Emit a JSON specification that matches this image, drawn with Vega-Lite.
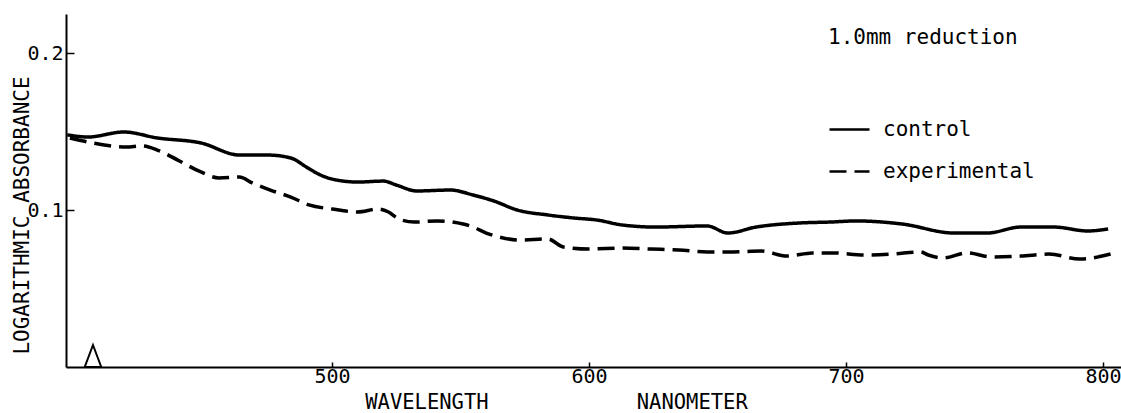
{
  "$schema": "https://vega.github.io/schema/vega-lite/v6.json",
  "width": 1055,
  "height": 353,
  "autosize": {"type": "none"},
  "padding": {"left": 66, "top": 14, "right": 0, "bottom": 46},
  "background": "white",
  "config": {
    "view": {"stroke": null},
    "font": "DejaVu Sans Mono",
    "axis": {"grid": false, "domainColor": "black", "domainWidth": 2, "tickColor": "black", "tickWidth": 1.5, "labelColor": "black", "titleColor": "black", "labelFont": "DejaVu Sans Mono", "titleFont": "DejaVu Sans Mono", "titleFontWeight": "normal"}
  },
  "datasets": {
    "spectra": [
      {"wavelength": 397, "absorbance": 0.148, "sample": "control"},
      {"wavelength": 405, "absorbance": 0.1466, "sample": "control"},
      {"wavelength": 419, "absorbance": 0.1498, "sample": "control"},
      {"wavelength": 432, "absorbance": 0.146, "sample": "control"},
      {"wavelength": 449, "absorbance": 0.1428, "sample": "control"},
      {"wavelength": 464, "absorbance": 0.1351, "sample": "control"},
      {"wavelength": 475, "absorbance": 0.1351, "sample": "control"},
      {"wavelength": 484, "absorbance": 0.1332, "sample": "control"},
      {"wavelength": 490, "absorbance": 0.1275, "sample": "control"},
      {"wavelength": 494, "absorbance": 0.1236, "sample": "control"},
      {"wavelength": 500, "absorbance": 0.1198, "sample": "control"},
      {"wavelength": 510, "absorbance": 0.1179, "sample": "control"},
      {"wavelength": 520, "absorbance": 0.1185, "sample": "control"},
      {"wavelength": 525, "absorbance": 0.116, "sample": "control"},
      {"wavelength": 533, "absorbance": 0.1122, "sample": "control"},
      {"wavelength": 546, "absorbance": 0.1128, "sample": "control"},
      {"wavelength": 555, "absorbance": 0.1096, "sample": "control"},
      {"wavelength": 563, "absorbance": 0.1058, "sample": "control"},
      {"wavelength": 572, "absorbance": 0.1001, "sample": "control"},
      {"wavelength": 584, "absorbance": 0.0969, "sample": "control"},
      {"wavelength": 594, "absorbance": 0.095, "sample": "control"},
      {"wavelength": 603, "absorbance": 0.0937, "sample": "control"},
      {"wavelength": 613, "absorbance": 0.0905, "sample": "control"},
      {"wavelength": 626, "absorbance": 0.0892, "sample": "control"},
      {"wavelength": 646, "absorbance": 0.0899, "sample": "control"},
      {"wavelength": 654, "absorbance": 0.0854, "sample": "control"},
      {"wavelength": 665, "absorbance": 0.0892, "sample": "control"},
      {"wavelength": 682, "absorbance": 0.0918, "sample": "control"},
      {"wavelength": 694, "absorbance": 0.0924, "sample": "control"},
      {"wavelength": 704, "absorbance": 0.0931, "sample": "control"},
      {"wavelength": 722, "absorbance": 0.0911, "sample": "control"},
      {"wavelength": 742, "absorbance": 0.0854, "sample": "control"},
      {"wavelength": 755, "absorbance": 0.0854, "sample": "control"},
      {"wavelength": 768, "absorbance": 0.0892, "sample": "control"},
      {"wavelength": 781, "absorbance": 0.0892, "sample": "control"},
      {"wavelength": 794, "absorbance": 0.0867, "sample": "control"},
      {"wavelength": 802, "absorbance": 0.088, "sample": "control"},
      {"wavelength": 398, "absorbance": 0.146, "sample": "experimental"},
      {"wavelength": 407, "absorbance": 0.1428, "sample": "experimental"},
      {"wavelength": 420, "absorbance": 0.1402, "sample": "experimental"},
      {"wavelength": 426, "absorbance": 0.1409, "sample": "experimental"},
      {"wavelength": 432, "absorbance": 0.1383, "sample": "experimental"},
      {"wavelength": 440, "absorbance": 0.1319, "sample": "experimental"},
      {"wavelength": 449, "absorbance": 0.1243, "sample": "experimental"},
      {"wavelength": 456, "absorbance": 0.1205, "sample": "experimental"},
      {"wavelength": 464, "absorbance": 0.1211, "sample": "experimental"},
      {"wavelength": 469, "absorbance": 0.1173, "sample": "experimental"},
      {"wavelength": 476, "absorbance": 0.1128, "sample": "experimental"},
      {"wavelength": 484, "absorbance": 0.1083, "sample": "experimental"},
      {"wavelength": 491, "absorbance": 0.1033, "sample": "experimental"},
      {"wavelength": 500, "absorbance": 0.1007, "sample": "experimental"},
      {"wavelength": 510, "absorbance": 0.0988, "sample": "experimental"},
      {"wavelength": 518, "absorbance": 0.1007, "sample": "experimental"},
      {"wavelength": 522, "absorbance": 0.0988, "sample": "experimental"},
      {"wavelength": 526, "absorbance": 0.0943, "sample": "experimental"},
      {"wavelength": 532, "absorbance": 0.0924, "sample": "experimental"},
      {"wavelength": 541, "absorbance": 0.0931, "sample": "experimental"},
      {"wavelength": 551, "absorbance": 0.0911, "sample": "experimental"},
      {"wavelength": 555, "absorbance": 0.0892, "sample": "experimental"},
      {"wavelength": 560, "absorbance": 0.0854, "sample": "experimental"},
      {"wavelength": 565, "absorbance": 0.0829, "sample": "experimental"},
      {"wavelength": 573, "absorbance": 0.0809, "sample": "experimental"},
      {"wavelength": 584, "absorbance": 0.0816, "sample": "experimental"},
      {"wavelength": 590, "absorbance": 0.0765, "sample": "experimental"},
      {"wavelength": 600, "absorbance": 0.0752, "sample": "experimental"},
      {"wavelength": 613, "absorbance": 0.0758, "sample": "experimental"},
      {"wavelength": 624, "absorbance": 0.0752, "sample": "experimental"},
      {"wavelength": 635, "absorbance": 0.0746, "sample": "experimental"},
      {"wavelength": 646, "absorbance": 0.0733, "sample": "experimental"},
      {"wavelength": 656, "absorbance": 0.0733, "sample": "experimental"},
      {"wavelength": 667, "absorbance": 0.0739, "sample": "experimental"},
      {"wavelength": 677, "absorbance": 0.0707, "sample": "experimental"},
      {"wavelength": 687, "absorbance": 0.0727, "sample": "experimental"},
      {"wavelength": 695, "absorbance": 0.0727, "sample": "experimental"},
      {"wavelength": 707, "absorbance": 0.0714, "sample": "experimental"},
      {"wavelength": 718, "absorbance": 0.072, "sample": "experimental"},
      {"wavelength": 729, "absorbance": 0.0733, "sample": "experimental"},
      {"wavelength": 732, "absorbance": 0.0714, "sample": "experimental"},
      {"wavelength": 738, "absorbance": 0.0695, "sample": "experimental"},
      {"wavelength": 747, "absorbance": 0.0727, "sample": "experimental"},
      {"wavelength": 757, "absorbance": 0.0701, "sample": "experimental"},
      {"wavelength": 768, "absorbance": 0.0707, "sample": "experimental"},
      {"wavelength": 779, "absorbance": 0.072, "sample": "experimental"},
      {"wavelength": 791, "absorbance": 0.0688, "sample": "experimental"},
      {"wavelength": 803, "absorbance": 0.072, "sample": "experimental"}
    ],
    "marker": [
      {"wavelength": 407, "absorbance": 0.007}
    ]
  },
  "layer": [
    {
      "data": {"name": "spectra"},
      "mark": {"type": "line", "color": "black", "strokeWidth": 3.5, "interpolate": "monotone"},
      "encoding": {
        "x": {
          "field": "wavelength", "type": "quantitative",
          "scale": {"domain": [396.5, 807], "nice": false, "zero": false},
          "axis": {
            "values": [500, 600, 700, 800],
            "labelFontSize": 20,
            "tickSize": -5,
            "labelPadding": 4,
            "title": "WAVELENGTH\u00a0\u00a0\u00a0\u00a0\u00a0\u00a0\u00a0\u00a0\u00a0\u00a0\u00a0\u00a0NANOMETER",
            "titleFontSize": 20.5,
            "titleX": 490,
            "titleY": 41,
            "titleAlign": "center",
            "titleBaseline": "alphabetic"
          }
        },
        "y": {
          "field": "absorbance", "type": "quantitative",
          "scale": {"domain": [0, 0.225], "nice": false},
          "axis": {
            "values": [0.1, 0.2],
            "format": ".1f",
            "labelFontSize": 20,
            "tickSize": -8,
            "labelPadding": 11,
            "title": "LOGARITHMIC ABSORBANCE",
            "titleFontSize": 21,
            "titleAngle": 270,
            "titleX": -38,
            "titleY": 201,
            "titleAlign": "center",
            "titleBaseline": "alphabetic"
          }
        },
        "strokeDash": {
          "field": "sample", "type": "nominal",
          "scale": {"domain": ["control", "experimental"], "range": [[1, 0], [17, 8]]},
          "legend": {
            "title": "1.0mm reduction",
            "orient": "none",
            "legendX": 762,
            "legendY": 13,
            "padding": 0,
            "titleFont": "DejaVu Sans Mono",
            "titleFontSize": 21,
            "titleFontWeight": "normal",
            "titleColor": "black",
            "titleLimit": 400,
            "titlePadding": 60,
            "labelFont": "DejaVu Sans Mono",
            "labelFontSize": 21,
            "labelColor": "black",
            "labelLimit": 400,
            "labelOffset": 12,
            "symbolType": "stroke",
            "symbolSize": 1600,
            "symbolStrokeWidth": 2.5,
            "symbolStrokeColor": "black",
            "rowPadding": 10
          }
        }
      }
    },
    {
      "data": {"name": "marker"},
      "mark": {"type": "point", "shape": "M0,-1L0.75,1L-0.75,1Z", "size": 484, "filled": false, "stroke": "black", "strokeWidth": 2, "opacity": 1},
      "encoding": {
        "x": {"field": "wavelength", "type": "quantitative"},
        "y": {"field": "absorbance", "type": "quantitative"}
      }
    }
  ]
}
